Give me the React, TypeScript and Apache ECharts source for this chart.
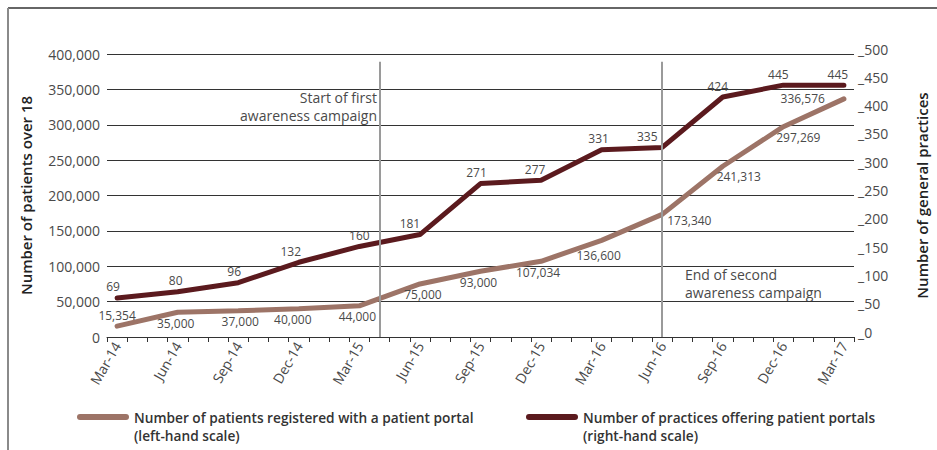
import React, { useEffect, useRef } from "react";
import * as echarts from "echarts";

// Monthly category axis (ticks every month, labels every quarter)
const months: string[] = [
  "Mar-14", "Apr-14", "May-14", "Jun-14", "Jul-14", "Aug-14", "Sep-14", "Oct-14", "Nov-14", "Dec-14",
  "Jan-15", "Feb-15", "Mar-15", "Apr-15", "May-15", "Jun-15", "Jul-15", "Aug-15", "Sep-15", "Oct-15",
  "Nov-15", "Dec-15", "Jan-16", "Feb-16", "Mar-16", "Apr-16", "May-16", "Jun-16", "Jul-16", "Aug-16",
  "Sep-16", "Oct-16", "Nov-16", "Dec-16", "Jan-17", "Feb-17", "Mar-17",
];

// Quarterly observation dates
const quarters: string[] = [
  "Mar-14", "Jun-14", "Sep-14", "Dec-14", "Mar-15", "Jun-15", "Sep-15",
  "Dec-15", "Mar-16", "Jun-16", "Sep-16", "Dec-16", "Mar-17",
];

// Number of patients registered with a patient portal (left-hand scale)
const patients: number[] = [
  15354, 35000, 37000, 40000, 44000, 75000, 93000,
  107034, 136600, 173340, 241313, 297269, 336576,
];

// Number of practices offering patient portals (right-hand scale)
const practices: number[] = [69, 80, 96, 132, 160, 181, 271, 277, 331, 335, 424, 445, 445];

const leftTicks = { min: 0, max: 400000, interval: 50000 };
const rightTicks = { min: 0, max: 500, interval: 50 };

const patientName = "Number of patients registered with a patient portal\n(left-hand scale)";
const practiceName = "Number of practices offering patient portals\n(right-hand scale)";

const campaignStart = "Apr-15";
const campaignEnd = "Jun-16";
const startNote = ["Start of first", "awareness campaign"];
const endNote = ["End of second", "awareness campaign"];

// label placement (styling only)
const patientLabelPlacement: { position: string; offset: [number, number] }[] = [
  { position: "top", offset: [0, 0] },
  { position: "bottom", offset: [-2, 0] },
  { position: "bottom", offset: [2, 0] },
  { position: "bottom", offset: [-6, 0] },
  { position: "bottom", offset: [-2, 0] },
  { position: "bottom", offset: [3, 0] },
  { position: "bottom", offset: [-2, 0] },
  { position: "bottom", offset: [-3, 0] },
  { position: "bottom", offset: [-3, 4] },
  { position: "right", offset: [0, 6] },
  { position: "bottom", offset: [16, -1] },
  { position: "bottom", offset: [15, 0] },
  { position: "left", offset: [-14, 0] },
];
const practiceLabelDx: number[] = [-4, -2, -4, -8, 0, -10, -4, -6, -3, -15, -5, -5, -6];

const FONT = "'Open Sans', 'Noto Sans', sans-serif";
const PATIENT_COLOR = "#9D7467";
const PRACTICE_COLOR = "#5B1A1E";
const TEXT = "#4a4a4a";

function toMonthly(values: number[], labelFor: (i: number) => any) {
  const out: any[] = months.map(() => null);
  quarters.forEach((q, i) => {
    out[months.indexOf(q)] = { value: values[i], label: labelFor(i) };
  });
  return out;
}

const fmt = (v: number) => v.toLocaleString("en-US");

export default function App() {
  const ref = useRef<HTMLDivElement>(null);
  useEffect(() => {
    if (!ref.current) return;
    const chart = echarts.init(ref.current, undefined, { renderer: "svg" });
    const labelBase = { show: true, color: TEXT, fontFamily: FONT, fontSize: 12, distance: 4 };
    const startIdx = months.indexOf(campaignStart);
    const endIdx = months.indexOf(campaignEnd);
    const lineTop = 389000;
    const legendCommon = {
      orient: "horizontal",
      itemWidth: 52,
      itemHeight: 6,
      padding: 0,
      symbolKeepAspect: false,
      selectedMode: false,
      formatter: (n: string) => "\n" + n,
      textStyle: {
        fontFamily: FONT,
        fontSize: 13.7,
        fontWeight: 600,
        color: "#333",
        lineHeight: 18,
      },
    };
    const pill = "path://M3,0 L49,0 A3,3 0 0 1 49,6 L3,6 A3,3 0 0 1 3,0 Z";
    const noteText = (text: string, x: number, y: number, align: string) => ({
      type: "text",
      x,
      y,
      style: { text, align, verticalAlign: "middle", fill: TEXT, font: `14px ${FONT}` },
    });
    chart.setOption({
      animation: false,
      grid: { left: 107, right: 66, top: 54, bottom: 113 },
      legend: [
        { ...legendCommon, left: 77, top: 390, data: [{ name: patientName, icon: pill }] },
        { ...legendCommon, left: 526, top: 390, data: [{ name: practiceName, icon: pill }] },
      ],
      xAxis: {
        type: "category",
        data: months,
        boundaryGap: true,
        axisLine: { show: true, lineStyle: { color: "#333", width: 1 } },
        axisTick: { show: true, interval: 0, length: 5, lineStyle: { color: "#333" } },
        axisLabel: {
          interval: (idx: number) => idx % 3 === 0,
          rotate: 60,
          color: TEXT,
          fontFamily: FONT,
          fontSize: 14,
          margin: 6,
        },
        splitLine: { show: false },
      },
      yAxis: [
        {
          type: "value",
          ...leftTicks,
          name: "Number of patients over 18",
          nameLocation: "middle",
          nameRotate: 90,
          nameGap: 74,
          nameTextStyle: { fontFamily: FONT, fontSize: 15, fontWeight: 600, color: "#222" },
          axisLine: { show: false },
          axisTick: { show: false },
          axisLabel: { formatter: (v: number) => fmt(v), color: TEXT, fontFamily: FONT, fontSize: 14, margin: 7 },
          splitLine: { show: true, lineStyle: { color: "#333", width: 1 } },
        },
        {
          type: "value",
          ...rightTicks,
          position: "right",
          name: "Number of general practices",
          nameLocation: "middle",
          nameRotate: 90,
          nameGap: 60,
          nameTextStyle: { fontFamily: FONT, fontSize: 15, fontWeight: 600, color: "#222" },
          axisLine: { show: false },
          axisTick: { show: false },
          axisLabel: {
            formatter: (v: number) => "_" + v,
            color: TEXT,
            fontFamily: FONT,
            fontSize: 14,
            margin: 4,
            verticalAlign: "bottom",
            lineHeight: 10,
          },
          splitLine: { show: false },
        },
      ],
      series: [
        {
          name: patientName,
          type: "line",
          yAxisIndex: 0,
          data: toMonthly(patients, (i) => ({
            ...labelBase,
            position: patientLabelPlacement[i].position,
            offset: patientLabelPlacement[i].offset,
            formatter: (p: any) => fmt(p.value),
          })),
          connectNulls: true,
          symbol: "circle",
          symbolSize: 2,
          showSymbol: true,
          itemStyle: { color: PATIENT_COLOR },
          color: PATIENT_COLOR,
          lineStyle: { color: PATIENT_COLOR, width: 5, cap: "round" },
          z: 3,
          markLine: {
            silent: true,
            symbol: "none",
            label: { show: false },
            lineStyle: { color: "#9a9a9a", width: 2, type: "solid" },
            data: [
              [{ coord: [startIdx, lineTop] }, { coord: [startIdx, 0] }],
              [{ coord: [endIdx, lineTop] }, { coord: [endIdx, 0] }],
            ],
          },
        },
        {
          name: practiceName,
          type: "line",
          yAxisIndex: 1,
          data: toMonthly(practices, (i) => ({
            ...labelBase,
            position: "top",
            offset: [practiceLabelDx[i], 0],
          })),
          connectNulls: true,
          symbol: "circle",
          symbolSize: 2,
          showSymbol: true,
          itemStyle: { color: PRACTICE_COLOR },
          color: PRACTICE_COLOR,
          lineStyle: { color: PRACTICE_COLOR, width: 5, cap: "round" },
          z: 4,
        },
      ],
      graphic: [
        { type: "line", shape: { x1: 8, y1: 8, x2: 937, y2: 8 }, style: { stroke: "#333", lineWidth: 1.5 } },
        { type: "line", shape: { x1: 8, y1: 8, x2: 8, y2: 450 }, style: { stroke: "#8a8a8a", lineWidth: 2 } },
        noteText(startNote[0], 377, 97, "right"),
        noteText(startNote[1], 377, 115, "right"),
        noteText(endNote[0], 685, 274, "left"),
        noteText(endNote[1], 685, 292, "left"),
      ],
    });
    return () => chart.dispose();
  }, []);
  return (
    <div
      ref={ref}
      style={{ position: "absolute", left: 0, top: 0, width: 937, height: 450, background: "#fff" }}
    />
  );
}
